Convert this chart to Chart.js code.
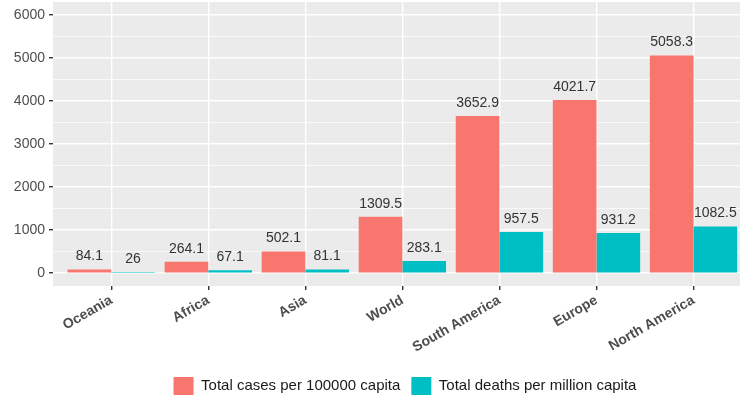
<!DOCTYPE html>
<html>
<head>
<meta charset="utf-8">
<script src="https://cdn.jsdelivr.net/npm/chart.js@4/dist/chart.umd.min.js"></script>
<style>
  html, body { margin: 0; padding: 0; overflow: hidden; background: #ffffff; }
  #wrap { width: 810px; height: 396px; }
</style>
</head>
<body>
<div id="wrap"><canvas id="chart" width="810" height="396"></canvas></div>
<script>
// Regions, ordered by cases per capita
const regions = ['Oceania', 'Africa', 'Asia', 'World', 'South America', 'Europe', 'North America'];
const casesPer100k = [84.1, 264.1, 502.1, 1309.5, 3652.9, 4021.7, 5058.3];
const deathsPerMillion = [26, 67.1, 81.1, 283.1, 957.5, 931.2, 1082.5];
const seriesNames = ['Total cases per 100000 capita', 'Total deaths per million capita'];
const yMajorTicks = [0, 1000, 2000, 3000, 4000, 5000, 6000];
const yMinorTicks = [500, 1500, 2500, 3500, 4500, 5500];

const FONT = "'Liberation Sans', Arial, sans-serif";

// grey panel behind the plot area
const panelBackground = {
  id: 'panelBackground',
  beforeDraw(chart) {
    const { ctx, chartArea: a } = chart;
    ctx.save();
    ctx.fillStyle = '#EBEBEB';
    ctx.fillRect(a.left, a.top, a.right - a.left, a.bottom - a.top);
    ctx.restore();
  }
};

// value labels above each bar
const valueLabels = {
  id: 'valueLabels',
  afterDatasetsDraw(chart) {
    const { ctx } = chart;
    ctx.save();
    ctx.font = '14px ' + FONT;
    ctx.fillStyle = '#333333';
    ctx.textAlign = 'center';
    ctx.textBaseline = 'middle';
    chart.data.datasets.forEach((ds, di) => {
      const meta = chart.getDatasetMeta(di);
      meta.data.forEach((bar, i) => {
        ctx.fillText(String(ds.data[i].y), bar.x, bar.y - 13);
      });
    });
    ctx.restore();
  }
};

const toPoints = arr => arr.map((v, i) => ({ x: i, y: v }));

new Chart(document.getElementById('chart'), {
  type: 'bar',
  data: {
    datasets: [
      { label: seriesNames[0], data: toPoints(casesPer100k), backgroundColor: '#F8766D', borderWidth: 0 },
      { label: seriesNames[1], data: toPoints(deathsPerMillion), backgroundColor: '#00BFC4', borderWidth: 0 }
    ]
  },
  options: {
    responsive: false,
    animation: false,
    devicePixelRatio: 1,
    layout: { padding: { top: 2, right: 0, left: 0, bottom: -9 } },
    datasets: { bar: { categoryPercentage: 0.9, barPercentage: 1.0, grouped: true } },
    plugins: {
      tooltip: { enabled: false },
      legend: {
        position: 'bottom',
        labels: {
          boxWidth: 20,
          boxHeight: 18,
          padding: 11,
          color: '#1a1a1a',
          font: { family: FONT, size: 15 }
        }
      }
    },
    scales: {
      x: {
        type: 'linear',
        offset: false,
        min: -0.6,
        max: 7.2,
        afterBuildTicks(scale) { scale.ticks = regions.map((_, i) => ({ value: i })); },
        afterFit(scale) {
          scale.height = 80;
          scale.paddingLeft = 0;
          scale.paddingRight = 0;
        },
        ticks: {
          autoSkip: false,
          maxRotation: 30,
          minRotation: 30,
          padding: 2,
          color: '#4d4d4d',
          font: { family: FONT, size: 14, weight: 'bold' },
          callback: v => regions[v]
        },
        grid: { color: '#ffffff', lineWidth: 1.4, tickColor: '#333333', tickLength: 4, offset: false },
        border: { display: false }
      },
      y: {
        min: -300,
        max: 6300,
        afterBuildTicks(scale) {
          scale.ticks = yMajorTicks.concat(yMinorTicks).sort((a, b) => a - b).map(v => ({ value: v }));
        },
        afterFit(scale) {
          scale.width = 53;
          scale.paddingTop = 0;
          scale.paddingBottom = 0;
        },
        ticks: {
          padding: 4,
          color: '#4d4d4d',
          font: { family: FONT, size: 14 },
          callback: v => (yMajorTicks.includes(v) ? String(v) : '')
        },
        grid: {
          color: '#ffffff',
          lineWidth: c => (yMajorTicks.includes(c.tick.value) ? 1.4 : 0.7),
          tickColor: c => (yMajorTicks.includes(c.tick.value) ? '#333333' : 'rgba(0,0,0,0)'),
          tickLength: 4
        },
        border: { display: false }
      }
    }
  },
  plugins: [panelBackground, valueLabels]
});
</script>
</body>
</html>
